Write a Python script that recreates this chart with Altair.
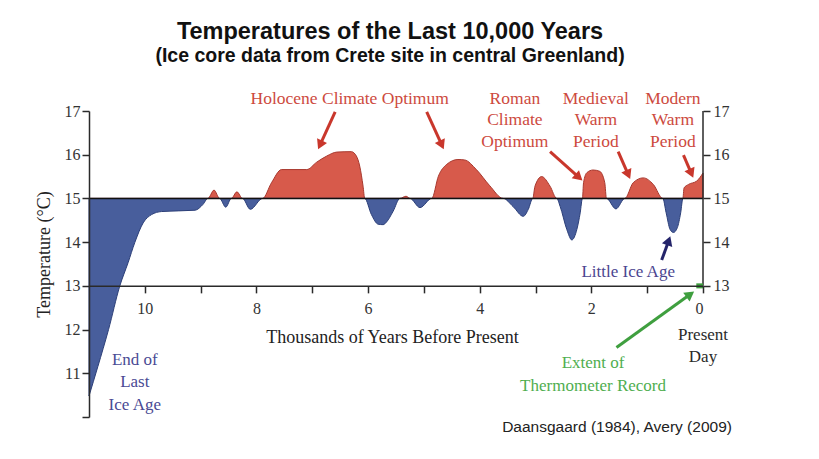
import math
import altair as alt
import pandas as pd

# Ice-core temperature reconstruction (Crete site, central Greenland)
kyr_bp = [11.00, 10.84, 10.65, 10.45, 10.30, 10.18, 10.03, 9.88, 9.70, 9.10,
          8.96, 8.87, 8.76, 8.66, 8.55, 8.45, 8.35, 8.25, 8.11, 7.89,
          7.73, 7.55, 7.10, 6.92, 6.74, 6.56, 6.30, 6.21, 6.15, 6.09,
          6.06, 5.94, 5.82, 5.73, 5.67, 5.55, 5.43, 5.32, 5.25, 5.07,
          4.86, 4.74, 4.59, 4.39, 4.27, 4.06, 3.82, 3.58, 3.40, 3.22,
          3.13, 3.05, 3.01, 2.89, 2.74, 2.62, 2.56, 2.44, 2.35, 2.26,
          2.20, 2.16, 2.14, 2.08, 1.97, 1.85, 1.76, 1.73, 1.56, 1.40,
          1.25, 1.07, 0.89, 0.72, 0.66, 0.59, 0.53, 0.46, 0.40, 0.36,
          0.34, 0.26, 0.11, 0.00]
temp_c = [10.48, 11.16, 12.00, 12.99, 13.53, 13.99, 14.44, 14.63, 14.70, 14.73,
          14.86, 15.00, 15.19, 15.00, 14.80, 15.00, 15.15, 15.00, 14.75, 15.00,
          15.36, 15.66, 15.66, 15.83, 15.97, 16.06, 16.07, 15.97, 15.74, 15.28,
          15.00, 14.63, 14.41, 14.40, 14.46, 14.71, 15.00, 15.05, 15.00, 14.79,
          15.00, 15.51, 15.78, 15.89, 15.88, 15.66, 15.29, 15.00, 14.81, 14.59,
          14.75, 15.00, 15.28, 15.50, 15.28, 15.00, 14.82, 14.29, 14.05, 14.29,
          14.67, 15.00, 15.36, 15.59, 15.65, 15.62, 15.36, 15.00, 14.76, 15.00,
          15.36, 15.47, 15.32, 15.00, 14.67, 14.29, 14.22, 14.33, 14.67, 15.00,
          15.24, 15.32, 15.40, 15.58]

BASELINE = 15
X_DOMAIN = [11, 0]
Y_DOMAIN = [10, 17]
W, H = 614, 306

# Period labels: text, x (kyr BP), y (deg C) of first baseline
red_labels = ["Holocene Climate Optimum", "Roman\nClimate\nOptimum",
              "Medieval\nWarm\nPeriod", "Modern\nWarm\nPeriod"]
red_label_x = [6.33, 3.37, 1.92, 0.54]
red_label_y = [17.17, 17.17, 17.17, 17.17]

# Arrows: tail (x, y) -> head (x, y)
arrow_tail_x = [6.59, 4.95, 2.74, 1.52, 0.35, 0.74, 1.55]
arrow_tail_y = [16.98, 16.98, 16.07, 16.07, 15.99, 13.59, 11.59]
arrow_head_x = [6.89, 4.65, 2.17, 1.31, 0.18, 0.59, 0.17]
arrow_head_y = [16.14, 16.14, 15.42, 15.46, 15.49, 14.12, 12.86]
arrow_color = ["#c9372c"] * 5 + ["#24246a", "#3f9f3f"]

RED = "#d75a4b"
RED_EDGE = "#a8382e"
BLUE = "#485e9c"
BLUE_EDGE = "#2c3f78"
SERIF = "Liberation Serif"
SANS = "Liberation Sans"
INK = "#2a2a2a"

xs = alt.Scale(domain=X_DOMAIN, nice=False, zero=False)
ys = alt.Scale(domain=Y_DOMAIN, nice=False, zero=False)

px_per_x = W / abs(X_DOMAIN[0] - X_DOMAIN[1])
px_per_y = H / (Y_DOMAIN[1] - Y_DOMAIN[0])
x_axis_offset = -(13 - Y_DOMAIN[0]) * px_per_y

x_axis = alt.Axis(
    values=list(range(0, 11)),
    labelExpr="datum.value % 2 == 0 ? datum.label : ''",
    orient="bottom", offset=x_axis_offset, tickSize=7, tickWidth=1.5,
    tickColor=INK, domainColor=INK, domainWidth=1.5, labelFont=SERIF,
    labelFontSize=16, labelColor="#333", labelPadding=8, grid=False, zindex=1,
    title="Thousands of Years Before Present", titleFont=SERIF,
    titleFontSize=18, titleFontWeight="normal", titleColor="#222",
    titlePadding=12, titleX=303,
)
y_axis_left = alt.Axis(
    values=list(range(10, 18)),
    labelExpr="datum.value == 10 ? '' : datum.label",
    orient="left", tickSize=7, tickWidth=1.5, tickColor=INK,
    domainColor=INK, domainWidth=1.5, labelFont=SERIF, labelFontSize=16,
    labelColor="#333", labelPadding=2, grid=False, zindex=1,
    title="Temperature (°C)", titleFont=SERIF, titleFontSize=18,
    titleFontWeight="normal", titleColor="#222", titleAngle=270,
    titleX=-45, titleY=143, titleAlign="center", titleBaseline="middle",
)
y_axis_right = alt.Axis(
    values=list(range(13, 18)), orient="right", domain=False,
    tickSize=7, tickWidth=1.5, tickColor=INK, labelFont=SERIF,
    labelFontSize=16, labelColor="#333", labelPadding=3, grid=False,
    title=None, zindex=1,
)


def X(field):
    # every layer carries the same x axis so the layers merge into one
    return alt.X(field, type="quantitative", scale=xs, axis=x_axis)


def Y(field, axis=None):
    return alt.Y(field, type="quantitative", scale=ys, axis=axis)


curve = pd.DataFrame({"k": kyr_bp, "T": temp_c})
base = alt.Chart(curve).transform_calculate(
    hi=f"max(datum.T, {BASELINE})", lo=f"min(datum.T, {BASELINE})", b=str(BASELINE)
)
warm = base.mark_area(color=RED, stroke=RED_EDGE, strokeWidth=1,
                      interpolate="monotone").encode(
    x=X("k:Q"), y=Y("hi:Q", y_axis_left), y2="b:Q")
cold = base.mark_area(color=BLUE, stroke=BLUE_EDGE, strokeWidth=1,
                      interpolate="monotone").encode(
    x=X("k:Q"), y=Y("lo:Q"), y2="b:Q")

ref = alt.Chart(pd.DataFrame({"k": [X_DOMAIN[0]], "k2": [X_DOMAIN[1]], "T": [BASELINE]})
                ).mark_rule(color="#111", strokeWidth=1.6).encode(
    x=X("k:Q"), x2="k2:Q", y=Y("T:Q"))

right_axis = alt.Chart(pd.DataFrame({"k": [0], "T": [13], "T2": [17]})).mark_rule(
    color=INK, strokeWidth=1.5).encode(x=X("k:Q"), y=Y("T:Q", y_axis_right), y2="T2:Q")

# Thermometer-era segment on the time axis
thermo = alt.Chart(pd.DataFrame({"k": [0.12], "k2": [0.0], "T": [13]})).mark_rule(
    color="#3f9f3f", strokeWidth=5).encode(x=X("k:Q"), x2="k2:Q", y=Y("T:Q"))

# Arrow shafts and heads
shafts, heads = [], []
for tx, ty, hx, hy, c in zip(arrow_tail_x, arrow_tail_y, arrow_head_x,
                             arrow_head_y, arrow_color):
    dx = (tx - hx) * px_per_x
    dy = (ty - hy) * px_per_y
    ang = math.degrees(math.atan2(dx, -dy)) % 360
    length = math.hypot(dx, dy)
    pull = 4.0 / length
    shafts.append({"x": tx, "y": ty, "x2": hx - (hx - tx) * pull,
                   "y2": hy - (hy - ty) * pull, "c": c})
    heads.append({"x": hx - (hx - tx) * pull, "y": hy - (hy - ty) * pull,
                  "a": ang, "c": c})

shaft_layer = alt.Chart(pd.DataFrame(shafts)).mark_rule(strokeWidth=3).encode(
    x=X("x:Q"), x2="x2:Q", y=Y("y:Q"), y2="y2:Q",
    color=alt.Color("c:N", scale=None))
head_layer = alt.Chart(pd.DataFrame(heads)).mark_point(
    shape="triangle-up", filled=True, size=120, opacity=1).encode(
    x=X("x:Q"), y=Y("y:Q"), angle=alt.Angle("a:Q", scale=None),
    color=alt.Color("c:N", scale=None))

red_text = alt.Chart(pd.DataFrame({"t": red_labels, "x": red_label_x, "y": red_label_y})
                     ).mark_text(font=SERIF, fontSize=17.5, color="#cd4a3e",
                                 lineBreak="\n", lineHeight=21.7,
                                 baseline="alphabetic", align="center").encode(
    x=X("x:Q"), y=Y("y:Q"), text="t:N")


def note(text, x, y, color, size=17, font=SERIF, line_height=22):
    return alt.Chart(pd.DataFrame({"t": [text], "x": [x], "y": [y]})).mark_text(
        font=font, fontSize=size, color=color, lineBreak="\n",
        lineHeight=line_height, baseline="alphabetic", align="center").encode(
        x=X("x:Q"), y=Y("y:Q"), text="t:N")


lia = note("Little Ice Age", 1.34, 13.21, "#4b4590")
end_ice = note("End of\nLast\nIce Age", 10.18, 11.20, "#4a4a94", line_height=22.8)
present = note("Present\nDay", 0.0, 11.76, "#2a2a2a", line_height=21.5)
thermo_note = note("Extent of\nThermometer Record", 1.97, 11.13, "#4fae4f",
                   line_height=23.4)
source = note("Daansgaard (1984), Avery (2009)", 1.54, 9.66, "#222",
              size=15.5, font=SANS)


def heading(text, y_px, size):
    return alt.Chart(pd.DataFrame({"t": [text]})).mark_text(
        font=SANS, fontSize=size, fontWeight="bold", color="#111",
        baseline="alphabetic", align="center").encode(
        x=alt.value(301), y=alt.value(y_px), text="t:N")


title = heading("Temperatures of the Last 10,000 Years", -72, 23.5)
subtitle = heading("(Ice core data from Crete site in central Greenland)", -49.5, 19.5)

chart = alt.layer(
    warm, cold, ref, right_axis, thermo, shaft_layer, head_layer,
    red_text, lia, end_ice, present, thermo_note, source, title, subtitle,
).resolve_axis(y="independent").properties(
    width=W, height=H,
    padding={"left": 89, "top": 111, "right": 116, "bottom": 42},
    autosize=alt.AutoSizeParams(type="none"),
    background="white",
).configure_view(stroke=None)

chart.save("out.html", embed_options={"renderer": "svg", "actions": False})
